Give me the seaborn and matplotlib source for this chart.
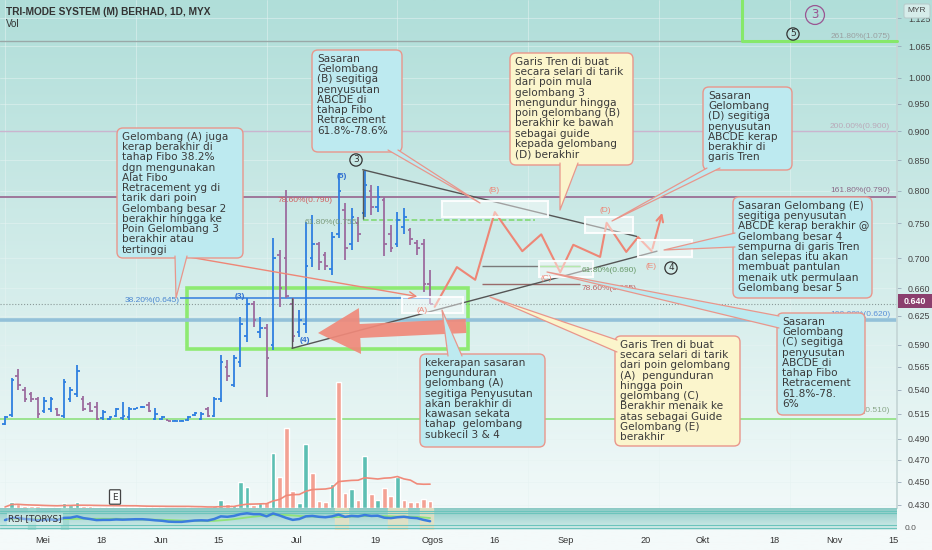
import numpy as np
import pandas as pd
import matplotlib
matplotlib.use('Agg')
import matplotlib.pyplot as plt
import seaborn as sns
from matplotlib.patches import FancyBboxPatch, Rectangle, FancyArrow
from matplotlib.ticker import NullLocator

sns.set_theme(style='white')
plt.rcParams['font.family'] = ['DejaVu Sans']

# ---- data ----
bar_high = [0.513, 0.553, 0.563, 0.543, 0.538, 0.532, 0.532, 0.532, 0.521, 0.552,
            0.543, 0.567, 0.533, 0.527, 0.527, 0.519, 0.513, 0.521, 0.527, 0.522,
            0.521, 0.523, 0.527, 0.521, 0.513, 0.509, 0.509, 0.509, 0.513, 0.517,
            0.517, 0.522, 0.532, 0.578, 0.573, 0.578, 0.624, 0.647, 0.643, 0.624,
            0.615, 0.729, 0.712, 0.801, 0.647, 0.632, 0.752, 0.762, 0.723, 0.709,
            0.737, 0.829, 0.781, 0.774, 0.760, 0.834, 0.810, 0.808, 0.790, 0.747,
            0.767, 0.774, 0.744, 0.726, 0.728, 0.684]
bar_low = [0.504, 0.512, 0.540, 0.527, 0.527, 0.511, 0.516, 0.517, 0.513, 0.511,
           0.527, 0.532, 0.518, 0.517, 0.509, 0.509, 0.509, 0.512, 0.509, 0.509,
           0.520, 0.521, 0.517, 0.509, 0.509, 0.508, 0.508, 0.508, 0.508, 0.513,
           0.509, 0.512, 0.512, 0.527, 0.549, 0.543, 0.565, 0.593, 0.611, 0.598,
           0.532, 0.584, 0.636, 0.647, 0.593, 0.599, 0.604, 0.688, 0.684, 0.684,
           0.678, 0.729, 0.698, 0.712, 0.723, 0.760, 0.763, 0.767, 0.703, 0.709,
           0.716, 0.734, 0.719, 0.705, 0.655, 0.639]
bar_open = [0.505, 0.514, 0.555, 0.540, 0.535, 0.530, 0.518, 0.520, 0.520, 0.513,
            0.530, 0.535, 0.530, 0.525, 0.522, 0.511, 0.510, 0.513, 0.511, 0.512,
            0.520, 0.522, 0.524, 0.510, 0.510, 0.509, 0.508, 0.508, 0.509, 0.514,
            0.510, 0.520, 0.513, 0.530, 0.565, 0.545, 0.570, 0.600, 0.640, 0.605,
            0.610, 0.590, 0.705, 0.700, 0.640, 0.605, 0.615, 0.700, 0.720, 0.705,
            0.685, 0.735, 0.770, 0.720, 0.750, 0.765, 0.800, 0.775, 0.785, 0.735,
            0.720, 0.745, 0.740, 0.722, 0.720, 0.665]
bar_close = [0.512, 0.550, 0.545, 0.530, 0.530, 0.515, 0.528, 0.530, 0.514, 0.548,
             0.540, 0.560, 0.520, 0.518, 0.510, 0.517, 0.512, 0.520, 0.513, 0.520,
             0.521, 0.522, 0.518, 0.515, 0.512, 0.508, 0.508, 0.508, 0.512, 0.516,
             0.515, 0.513, 0.530, 0.570, 0.555, 0.575, 0.615, 0.640, 0.620, 0.610,
             0.575, 0.700, 0.660, 0.650, 0.600, 0.620, 0.690, 0.720, 0.695, 0.690,
             0.730, 0.800, 0.715, 0.760, 0.735, 0.810, 0.775, 0.790, 0.720, 0.715,
             0.755, 0.760, 0.728, 0.715, 0.665, 0.640]
# volume (juta unit)
volume = [0.1, 0.6, 0.4, 0.2, 0.2, 0.2, 0.1, 0.1, 0.1, 0.5,
          0.3, 0.6, 0.2, 0.2, 0.1, 0.1, 0.1, 0.15, 0.1, 0.1,
          0.1, 0.1, 0.1, 0.1, 0.1, 0.05, 0.05, 0.05, 0.1, 0.1,
          0.1, 0.1, 0.2, 0.8, 0.4, 0.3, 2.6, 2.1, 0.3, 0.5,
          0.6, 5.5, 3.1, 8.0, 1.7, 0.5, 6.4, 3.5, 0.7, 0.6,
          2.4, 12.6, 1.5, 1.9, 0.8, 5.2, 1.4, 0.8, 2.0, 1.2,
          3.1, 0.8, 0.6, 0.6, 0.9, 0.7]
vol_up = [0, 1, 0, 0, 0, 0, 1, 1, 0, 1,
          1, 1, 0, 0, 0, 1, 1, 1, 1, 1,
          1, 1, 0, 1, 1, 1, 1, 1, 1, 1,
          1, 0, 1, 1, 0, 1, 1, 1, 0, 1,
          0, 1, 0, 0, 0, 1, 1, 0, 0, 0,
          1, 0, 0, 1, 0, 1, 0, 1, 0, 0,
          1, 0, 0, 0, 0, 0]
rsi = [45, 55, 55, 50, 48, 44, 46, 48, 45, 55,
       56, 62, 54, 50, 45, 46, 46, 48, 47, 48,
       49, 49, 47, 44, 42, 38, 37, 37, 40, 43,
       44, 43, 50, 62, 60, 64, 72, 76, 72, 72,
       62, 75, 66, 55, 46, 50, 62, 64, 60, 58,
       62, 70, 60, 64, 62, 68, 64, 65, 56, 54,
       58, 60, 56, 54, 46, 40]

date_pos = [5.8, 14.8, 23.9, 32.7, 44.6, 56.7, 65.4, 74.8, 85.8, 97.9, 106.7, 117.7, 126.8, 135.8]
date_labels = ['Mei', '18', 'Jun', '15', 'Jul', '19', 'Ogos', '16', 'Sep', '20', 'Okt', '18', 'Nov', '15']
price_ticks = [1.125, 1.065, 1.000, 0.950, 0.900, 0.850, 0.800, 0.750, 0.700, 0.660,
               0.625, 0.590, 0.565, 0.540, 0.515, 0.490, 0.470, 0.450, 0.430]

# unjuran gelombang ABCDE (indeks bar, harga)
wave_x = [65.7, 69.1, 71.9, 74.9, 79.1, 82.0, 84.9, 86.9, 91.0, 92.0, 95.0, 96.8, 98.9, 100.6]
wave_y = [0.636, 0.688, 0.671, 0.767, 0.710, 0.734, 0.681, 0.719, 0.702, 0.751, 0.709, 0.730, 0.710, 0.770]
trend_up_x, trend_up_y = [54.7, 96.6], [0.834, 0.731]
trend_lo_x, trend_lo_y = [43.9, 99.7], [0.586, 0.710]

box_a = ("Gelombang (A) juga\nkerap berakhir di\ntahap Fibo 38.2%\ndgn mengunakan\nAlat Fibo\n"
         "Retracement yg di\ntarik dari poin\nGelombang besar 2\nberakhir hingga ke\n"
         "Poin Gelombang 3\nberakhir atau\ntertinggi")
box_b = "Sasaran\nGelombang\n(B) segitiga\npenyusutan\nABCDE di\ntahap Fibo\nRetracement\n61.8%-78.6%"
box_c = ("Garis Tren di buat\nsecara selari di tarik\ndari poin mula\ngelombang 3\nmengundur hingga\n"
         "poin gelombang (B)\nberakhir ke bawah\nsebagai guide\nkepada gelombang\n(D) berakhir")
box_d = "Sasaran\nGelombang\n(D) segitiga\npenyusutan\nABCDE kerap\nberakhir di\ngaris Tren"
box_e = ("Sasaran Gelombang (E)\nsegitiga penyusutan\nABCDE kerap berakhir @\nGelombang besar 4\n"
         "sempurna di garis Tren\ndan selepas itu akan\nmembuat pantulan\nmenaik utk permulaan\nGelombang besar 5")
box_f = "Sasaran\nGelombang\n(C) segitiga\npenyusutan\nABCDE di\ntahap Fibo\nRetracement\n61.8%-78.\n6%"
box_g = ("Garis Tren di buat\nsecara selari di tarik\ndari poin gelombang\n(A)  pengunduran\nhingga poin\n"
         "gelombang (C)\nBerakhir menaik ke\natas sebagai Guide\nGelombang (E)\nberakhir")
box_h = ("kekerapan sasaran\npengunduran\ngelombang (A)\nsegitiga Penyusutan\nakan berakhir di\n"
         "kawasan sekata\ntahap  gelombang\nsubkecil 3 & 4")

df = pd.DataFrame({'o': bar_open, 'h': bar_high, 'l': bar_low, 'c': bar_close,
                   'vol': volume, 'up': vol_up, 'rsi': rsi})
df['idx'] = np.arange(len(df))
df['vol_ma'] = df['vol'].rolling(20, min_periods=1).mean()
df['rsi_ma'] = df['rsi'].rolling(9, min_periods=1).mean()

CYAN = '#BDEAF0'
YEL = '#FBF5CC'
EDGE = '#E9968B'
SALMON = '#EE8676'
XMIN, XMAX = -0.765, 136.4

fig = plt.figure(figsize=(9.32, 5.5), dpi=100)

# latar belakang gradien
bg = fig.add_axes([0, 0, 1, 1], zorder=-5)
top = np.array([176, 222, 217]) / 255
bot = np.array([244, 250, 250]) / 255
t = np.linspace(0, 1, 256)[:, None]
bg.imshow((top + (bot - top) * np.clip(t * 1.04, 0, 1))[:, None, :], aspect='auto', extent=[0, 1, 0, 1])
bg.axis('off')

# panel harga
ax = fig.add_axes([0, 42 / 550, 897 / 932, 508 / 550])
vax = ax.twinx()
ax.set_facecolor('none')
ax.set_yscale('log')
ax.set_ylim(0.4274, 1.1664)
ax.set_xlim(XMIN, XMAX)
ax.yaxis.tick_right()
ax.yaxis.set_label_position('right')
ax.set_yticks(price_ticks, [f'{v:.3f}' for v in price_ticks])
ax.yaxis.set_minor_locator(NullLocator())
ax.tick_params(axis='y', left=False, labelleft=False, right=True, labelright=True,
               length=3, width=0.6, color='#9ab', pad=5, labelsize=6.4, labelcolor='#444')
ax.tick_params(axis='x', bottom=False, labelbottom=False)
for lab in ax.get_yticklabels():
    lab.set_family('Liberation Sans')
for s in ['top', 'left', 'bottom']:
    ax.spines[s].set_visible(False)
ax.spines['right'].set_color('#c5d6d6')
ax.grid(True, color='#e6f3f2', lw=0.6, alpha=0.6)

# tahap fibo
ax.axhline(1.075, color='#9aa8a8', lw=1)
ax.axhline(0.900, color='#c8a8c8', lw=1, alpha=0.8)
ax.axhline(0.790, color='#9b6f95', lw=1.3)
ax.axhline(0.620, color='#93c1d9', lw=2.6)
ax.axhline(0.510, color='#8fe07f', lw=1.2)
ax.axhline(0.640, color='#8a9a9a', lw=0.8, ls=':')
ax.hlines(0.647, 26.8, 65, color='#3f86e0', lw=1.2)
ax.hlines(0.755, 54.7, 81, color='#7ad86a', lw=1.1, ls='--')
ax.hlines(0.690, 72.9, 88, color='#7a7a7a', lw=1)
ax.hlines(0.690, 81.5, 88, color='#7ad86a', lw=1)
ax.hlines(0.665, 72.9, 88, color='#9a6a6a', lw=1)

# bar OHLC
up = df['c'] >= df['o']
col = np.where(up, '#2F7FE0', '#9C6B9E')
ax.vlines(df['idx'], df['l'], df['h'], colors=col, lw=1.3)
ax.hlines(df['o'], df['idx'] - 0.4, df['idx'], colors=col, lw=1.3)
ax.hlines(df['c'], df['idx'], df['idx'] + 0.4, colors=col, lw=1.3)

# garis tren & segitiga
ax.plot(trend_up_x, trend_up_y, color='#555', lw=1)
ax.plot(trend_lo_x, trend_lo_y, color='#555', lw=1)
ax.vlines(trend_up_x[0], 0.757, trend_up_y[0], color='#555', lw=1)
ax.vlines(trend_lo_x[0], trend_lo_y[0], 0.647, color='#555', lw=1)

# kotak hijau
ax.add_patch(Rectangle((27.8, 0.585), 43, 0.075, fill=False, ec='#8EEA72', lw=2.6))

# unjuran gelombang
sns.lineplot(x=wave_x[:-1], y=wave_y[:-1], ax=ax, color=SALMON, lw=1.5, sort=False)
ax.annotate('', xy=(wave_x[-1], wave_y[-1]), xytext=(wave_x[-2], wave_y[-2]),
            arrowprops=dict(arrowstyle='->', color=SALMON, lw=1.5))

# volume
vax.set_ylim(0, 12.6 * 508 / 126)
vax.bar(df['idx'], df['vol'], width=0.72,
        color=np.where(df['up'] == 1, '#5DBFB3', '#F3A193'), zorder=1)
sns.lineplot(x=df['idx'], y=df['vol_ma'], ax=vax, color='#F08A7A', lw=1.2)
vax.set_xlim(XMIN, XMAX)
vax.axis('off')

# panel RSI
rax = fig.add_axes([0, 20 / 550, 897 / 932, 22 / 550])
rax.set_facecolor('none')
rtop = np.array([140, 202, 197]) / 255
rbot = np.array([214, 238, 236]) / 255
rax.imshow((rtop + (rbot - rtop) * t)[:, None, :], aspect='auto', extent=[XMIN, XMAX, 0, 100], zorder=0)
for x0, x1, c in [(3.5, 4.6, '#9fd8cf'), (8.5, 9.6, '#9fd8cf'), (50.5, 52.5, '#e6e0c0'),
                  (58.5, 61.5, '#e6e0c0'), (63.5, 65.5, '#e6e0c0')]:
    rax.axvspan(x0, x1, color=c, alpha=0.8, zorder=1)
for lv in [88, 76, 22, 8]:
    rax.axhline(lv, color='#6cc4bc', lw=0.8, zorder=2)
sns.lineplot(x=df['idx'], y=df['rsi_ma'], ax=rax, color='#90e27a', lw=1.3, zorder=3)
sns.lineplot(x=df['idx'], y=df['rsi'], ax=rax, color='#3B7DDD', lw=1.8, zorder=4)
rax.set_xlim(XMIN, XMAX)
rax.set_ylim(0, 100)
rax.set_ylabel('')
rax.set_xlabel('')
rax.set_yticks([])
rax.set_xticks(date_pos, date_labels)
rax.tick_params(axis='x', length=0, pad=4, labelsize=6.6, labelcolor='#333')
for lab in rax.get_xticklabels():
    lab.set_family('Liberation Sans')
for s in rax.spines.values():
    s.set_visible(False)
rax.text(0.5, 50, 'RSI [TORYS]', fontsize=6.5, color='#333', va='center', zorder=5,
         bbox=dict(boxstyle='square,pad=0.15', fc='white', ec='none', alpha=0.35))

# lapisan lukisan (koordinat piksel)
ov = fig.add_axes([0, 0, 1, 1], zorder=10)
ov.set_xlim(0, 932)
ov.set_ylim(550, 0)
ov.axis('off')

ov.text(6, 12, 'TRI-MODE SYSTEM (M) BERHAD, 1D, MYX', fontsize=7.3, fontweight='bold', color='#333',
        va='center', family=['Liberation Sans Narrow', 'Liberation Sans'])
ov.text(6, 24, 'Vol', fontsize=7, color='#333', va='center', family=['Liberation Sans'])

ov.plot([742, 742, 897], [0, 41, 41], color='#86E86A', lw=2.2)

def circ(x, y, s, c, fs=6.5, pad=0.18):
    ov.text(x, y, s, fontsize=fs, color=c, ha='center', va='center',
            bbox=dict(boxstyle=f'circle,pad={pad}', fc='none', ec=c, lw=0.9))

circ(815, 15, '3', '#9A5592', fs=8.5, pad=0.25)
circ(793, 34, '5', '#333')
circ(356, 160, '3', '#333')
circ(671, 268, '4', '#333')

lv_font = dict(fontsize=6, family=['Liberation Sans'], va='center')
ov.text(890, 36, '261.80%(1.075)', color='#9aa0a0', ha='right', **lv_font)
ov.text(890, 126, '200.00%(0.900)', color='#b9a9b9', ha='right', **lv_font)
ov.text(890, 190, '161.80%(0.790)', color='#8a6a88', ha='right', **lv_font)
ov.text(890, 314, '100.00%(0.620)', color='#5a90d8', ha='right', **lv_font)
ov.text(890, 411, '61.80%(0.510)', color='#8aa88a', ha='right', **lv_font)
ov.text(125, 301, '38.20%(0.645)', color='#4a86d0', **lv_font)
ov.text(278, 200, '78.60%(0.790)', color='#d06060', **lv_font)
ov.text(305, 222, '61.80%(0.755)', color='#7a9a7a', **lv_font)
ov.text(582, 270, '61.80%(0.690)', color='#6a9a6a', **lv_font)
ov.text(582, 288, '78.60%(0.665)', color='#c06060', **lv_font)

for x, y, s in [(422, 310, '(A)'), (494, 190, '(B)'), (546, 278, '(C)'), (605, 211, '(D)'), (651, 266, '(E)')]:
    ov.text(x, y, s, color=SALMON, ha='center', **lv_font)
for x, y, s in [(240, 297, '(3)'), (305, 340, '(4)'), (342, 176, '(5)')]:
    ov.text(x, y, s, color='#2F6FD0', ha='center', fontweight='bold', **lv_font)

# kotak putih sasaran
for x0, y0, x1, y1 in [(442, 201, 548, 217), (585, 217, 633, 233), (638, 240, 692, 257),
                       (539, 261, 593, 277), (402, 297, 463, 313)]:
    ov.add_patch(Rectangle((x0, y0), x1 - x0, y1 - y0, fc=(1, 1, 1, 0.45), ec=(1, 1, 1, 0.9), lw=1.5))

# anak panah besar
ov.add_patch(FancyArrow(466, 326, -148, 7, width=14, head_width=46, head_length=42,
                        length_includes_head=True, color='#F0897A', alpha=0.92, lw=0))
ov.annotate('', xy=(420, 297), xytext=(183, 256),
            arrowprops=dict(arrowstyle='->', color=SALMON, lw=1))

# penunjuk kotak
wedges = [((175, 256), (187, 256), (176, 298), CYAN),
          ((388, 150), (398, 150), (480, 203), CYAN),
          ((560, 163), (578, 163), (560, 210), YEL),
          ((707, 168), (720, 168), (612, 221), CYAN),
          ((735, 233), (735, 247), (664, 250), CYAN),
          ((779, 316), (779, 328), (547, 272), CYAN),
          ((617, 340), (617, 352), (490, 297), YEL),
          ((448, 356), (462, 356), (442, 310), CYAN)]

boxes = [(117, 128, 243, 258, box_a, CYAN), (312, 50, 402, 152, box_b, CYAN),
         (510, 53, 633, 165, box_c, YEL), (703, 87, 792, 170, box_d, CYAN),
         (733, 197, 872, 298, box_e, CYAN), (777, 313, 865, 415, box_f, CYAN),
         (615, 336, 740, 446, box_g, YEL), (420, 354, 545, 447, box_h, CYAN)]
for x0, y0, x1, y1, txt, fc in boxes:
    ov.add_patch(FancyBboxPatch((x0, y0), x1 - x0, y1 - y0, boxstyle='round,pad=0,rounding_size=6',
                                fc=fc, ec=EDGE, lw=1, zorder=3))
    ov.text(x0 + 5, y0 + 4, txt, fontsize=7.6, linespacing=1.03, color='#3a3a3a',
            va='top', ha='left', zorder=5)
for b1, b2, tip, fc in wedges:
    ov.fill([b1[0], b2[0], tip[0]], [b1[1], b2[1], tip[1]], color=fc, lw=0, zorder=4)
    ov.plot([b1[0], tip[0], b2[0]], [b1[1], tip[1], b2[1]], color=EDGE, lw=0.9, zorder=4)

# penanda E
ov.text(115, 497, 'E', fontsize=6.5, color='#333', ha='center', va='center',
        bbox=dict(boxstyle='round,pad=0.3,rounding_size=0.1', fc=(1, 1, 1, 0.6), ec='#444', lw=0.9))

# label paksi kanan
ov.add_patch(FancyBboxPatch((904, 4), 26, 14, boxstyle='round,pad=0,rounding_size=2',
                            fc='#d6ecea', ec='#b8cccc', lw=0.8))
ov.text(917, 11, 'MYR', fontsize=6, color='#444', ha='center', va='center', family=['Liberation Sans'])
ov.add_patch(Rectangle((898, 294), 34, 14, fc='#8B3F6E', ec='none'))
ov.text(915, 301, '0.640', fontsize=6.4, color='white', ha='center', va='center',
        fontweight='bold', family=['Liberation Sans'])
ov.text(905, 528, '0.0', fontsize=6, color='#555', va='center', family=['Liberation Sans'])

fig.savefig('out.png', dpi=100)
